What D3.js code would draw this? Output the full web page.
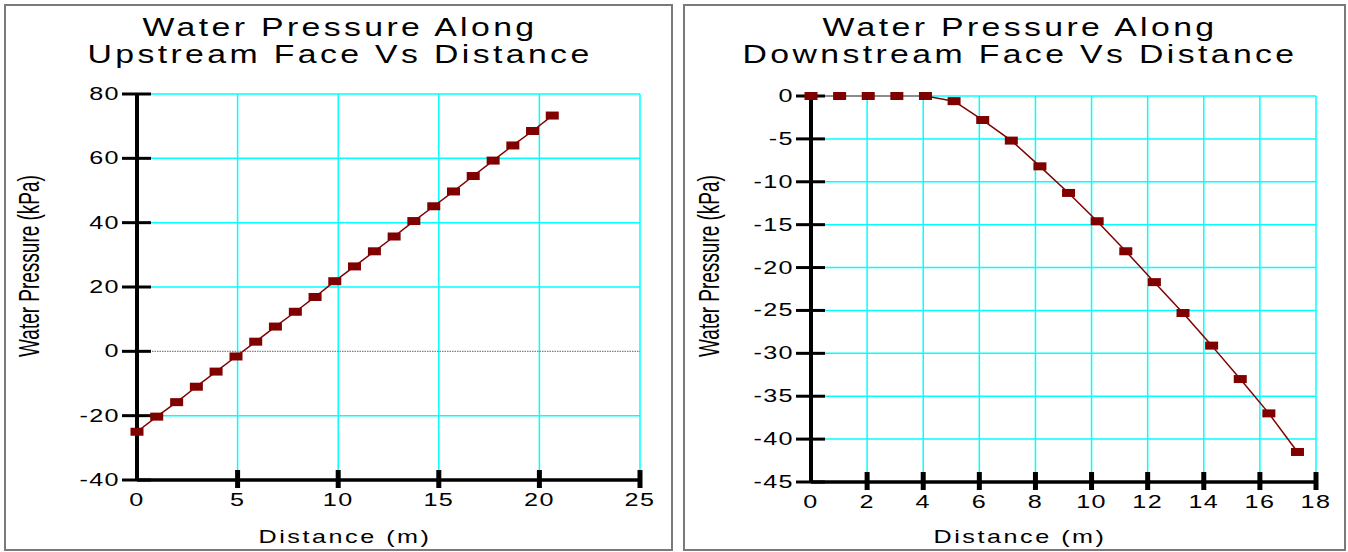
<!DOCTYPE html>
<html><head><meta charset="utf-8">
<script src="https://cdn.jsdelivr.net/npm/d3@7"></script>
<style>body{margin:0;background:#fff}svg{display:block}text{font-family:"Liberation Sans",Arial,sans-serif;fill:#000}</style>
</head><body>
<svg id="chart" width="1348" height="552"></svg>
<script>
// ---- data ----
const upTitle = ["Water Pressure Along", "Upstream Face Vs Distance"];
const downTitle = ["Water Pressure Along", "Downstream Face Vs Distance"];
const xLabel = "Distance (m)";
const yLabel = "Water Pressure (kPa)";

const upDistance = [0, 0.98, 1.97, 2.95, 3.93, 4.92, 5.9, 6.88, 7.87, 8.85, 9.83, 10.81, 11.8, 12.78, 13.76, 14.75, 15.73, 16.71, 17.7, 18.68, 19.66, 20.64];
const upPressure = [-25.0, -20.3, -15.8, -11.0, -6.3, -1.6, 3.0, 7.7, 12.3, 16.9, 21.8, 26.4, 31.1, 35.7, 40.5, 45.1, 49.7, 54.5, 59.3, 64.0, 68.5, 73.3];
const upXTicks = [0, 5, 10, 15, 20, 25];
const upYTicks = [-40, -20, 0, 20, 40, 60, 80];

const downDistance = [0, 1.02, 2.04, 3.06, 4.08, 5.1, 6.12, 7.14, 8.16, 9.18, 10.2, 11.22, 12.24, 13.26, 14.28, 15.3, 16.32, 17.34];
const downPressure = [0, 0, 0, 0, 0, -0.6, -2.8, -5.2, -8.2, -11.3, -14.6, -18.1, -21.7, -25.3, -29.1, -33.0, -37.0, -41.5];
const downXTicks = [0, 2, 4, 6, 8, 10, 12, 14, 16, 18];
const downYTicks = [-45, -40, -35, -30, -25, -20, -15, -10, -5, 0];

const svg = d3.select("#chart");
const CYAN = "#00ffff", RED = "#800000";

function sText(g, str, x, y, size, sx, anchor, ls) {
  return g.append("text")
    .attr("transform", `translate(${x},${y}) scale(${sx},1)`)
    .attr("text-anchor", anchor || "middle")
    .attr("font-size", size)
    .attr("letter-spacing", ls || 0)
    .text(str);
}

function panel(o) {
  const g = svg.append("g");
  // frame
  g.append("rect").attr("x", o.box[0]).attr("y", 5).attr("width", o.box[1] - o.box[0]).attr("height", 545)
    .attr("fill", "none").attr("stroke", "#7a7a7a").attr("stroke-width", 2);
  // titles
  sText(g, o.title[0], o.cx, 36, 26, 1.3, "middle", 2.6);
  sText(g, o.title[1], o.cx, 63, 26, 1.3, "middle", 2.6);

  const x = d3.scaleLinear().domain(o.xDomain).range(o.xRange);
  const y = d3.scaleLinear().domain(o.yDomain).range(o.yRange);
  const [x0, x1] = o.xRange, [yb, yt] = o.yRange;

  // grid
  const grid = g.append("g");
  o.xTicks.filter(v => v !== o.xDomain[0]).forEach(v => {
    grid.append("line").attr("x1", x(v)).attr("x2", x(v)).attr("y1", yt).attr("y2", yb)
      .attr("stroke", CYAN).attr("stroke-width", 1.5);
  });
  o.yTicks.filter(v => v !== o.yDomain[0]).forEach(v => {
    const zero = (v === 0 && o.dottedZero);
    grid.append("line").attr("x1", x0).attr("x2", x1).attr("y1", y(v)).attr("y2", y(v))
      .attr("stroke", zero ? "#808080" : CYAN).attr("stroke-width", zero ? 1.4 : 1.5)
      .attr("stroke-dasharray", zero ? "1.5,1" : null);
  });

  // series line
  const pts = o.xs.map((d, i) => [d, o.ys[i]]);
  for (let i = 1; i < pts.length; i++) {
    const flat = pts[i - 1][1] === 0 && pts[i][1] === 0;
    g.append("line").attr("x1", x(pts[i - 1][0])).attr("y1", y(pts[i - 1][1]))
      .attr("x2", x(pts[i][0])).attr("y2", y(pts[i][1]))
      .attr("stroke", flat ? "#8c8c8c" : RED).attr("stroke-width", flat ? 2 : 1.5);
  }

  // axes (thick)
  const ax = g.append("g");
  ax.append("line").attr("x1", x0).attr("x2", x0).attr("y1", yt).attr("y2", yb)
    .attr("stroke", "#000").attr("stroke-width", 4);
  ax.append("line").attr("x1", x0).attr("x2", x1).attr("y1", yb).attr("y2", yb)
    .attr("stroke", "#000").attr("stroke-width", 3.5);
  o.yTicks.forEach(v => {
    ax.append("line").attr("x1", x0 - 15).attr("x2", x0 + 14).attr("y1", y(v)).attr("y2", y(v))
      .attr("stroke", "#000").attr("stroke-width", 3);
    sText(ax, String(v), x0 - 17, y(v) + 6, 18, 1.4, "end", 1);
  });
  o.xTicks.forEach(v => {
    if (v !== o.xDomain[0]) {
      ax.append("line").attr("x1", x(v)).attr("x2", x(v)).attr("y1", yb - 10).attr("y2", yb + 8)
        .attr("stroke", "#000").attr("stroke-width", 5);
    }
    sText(ax, String(v), x(v), yb + 26, 18, 1.4, "middle", 1);
  });

  // markers
  g.append("g").selectAll("rect").data(pts).join("rect")
    .attr("x", d => x(d[0]) - 6.5).attr("y", d => y(d[1]) - 4)
    .attr("width", 13).attr("height", 8).attr("fill", RED);

  // axis labels
  sText(g, o.xLabel, o.xLabelX, 543, 18, 1.4, "middle", 1.8);
  g.append("text")
    .attr("transform", `translate(${o.yLabelX},266) rotate(-90) scale(1,1.6)`)
    .attr("text-anchor", "middle").attr("font-size", 19).text(o.yLabel);
}

panel({
  box: [5, 672], cx: 340, title: upTitle,
  xDomain: [0, 25], xRange: [137, 640], yDomain: [-40, 80], yRange: [480, 94],
  xTicks: upXTicks, yTicks: upYTicks, xs: upDistance, ys: upPressure,
  dottedZero: true, xLabel: xLabel, xLabelX: 345, yLabel: yLabel, yLabelX: 39
});
panel({
  box: [684, 1345], cx: 1020, title: downTitle,
  xDomain: [0, 18], xRange: [811, 1316], yDomain: [-45, 0], yRange: [482, 96],
  xTicks: downXTicks, yTicks: downYTicks, xs: downDistance, ys: downPressure,
  dottedZero: false, xLabel: xLabel, xLabelX: 1020, yLabel: yLabel, yLabelX: 719
});
</script>
</body></html>
